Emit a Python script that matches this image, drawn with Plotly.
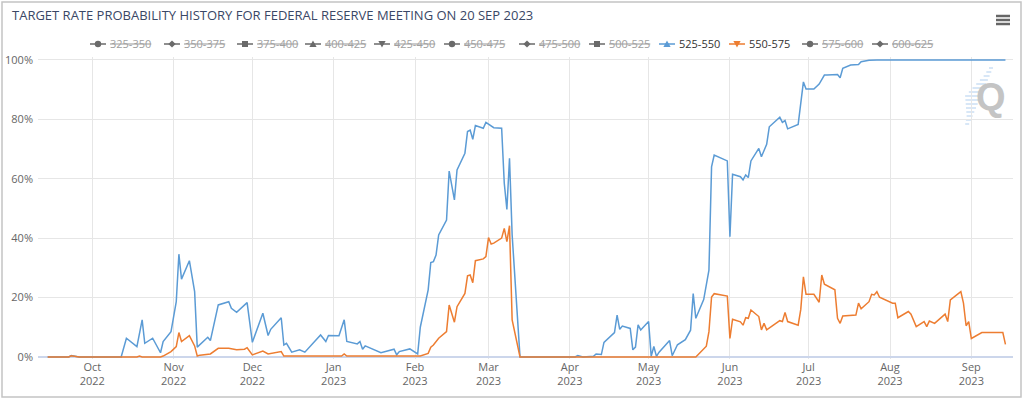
import plotly.graph_objects as go

# ---------------- data ----------------
rate_buckets = ["325-350", "350-375", "375-400", "400-425", "425-450", "450-475",
                "475-500", "500-525", "525-550", "550-575", "575-600", "600-625"]
bucket_symbols = ["circle", "diamond", "square", "triangle-up", "triangle-down", "circle",
                  "diamond", "square", "triangle-up", "triangle-down", "circle", "diamond"]
visible_buckets = ["525-550", "550-575"]

dates_525_550 = [
    "2022-09-14", "2022-09-22", "2022-09-23", "2022-09-26", "2022-10-12", "2022-10-14",
    "2022-10-18", "2022-10-20", "2022-10-21", "2022-10-24", "2022-10-27", "2022-10-28",
    "2022-10-31", "2022-11-02", "2022-11-03", "2022-11-04", "2022-11-07", "2022-11-09",
    "2022-11-10", "2022-11-14", "2022-11-15", "2022-11-18", "2022-11-22", "2022-11-23",
    "2022-11-25", "2022-11-29", "2022-12-01", "2022-12-05", "2022-12-07", "2022-12-08",
    "2022-12-12", "2022-12-13", "2022-12-14", "2022-12-16", "2022-12-19", "2022-12-21",
    "2022-12-27", "2022-12-29", "2022-12-30", "2023-01-03", "2023-01-05", "2023-01-06",
    "2023-01-10", "2023-01-11", "2023-01-12", "2023-01-13", "2023-01-19", "2023-01-24",
    "2023-01-25", "2023-01-26", "2023-01-30", "2023-02-02", "2023-02-03", "2023-02-06",
    "2023-02-07", "2023-02-08", "2023-02-09", "2023-02-10", "2023-02-13", "2023-02-14",
    "2023-02-16", "2023-02-17", "2023-02-20", "2023-02-21", "2023-02-22", "2023-02-23",
    "2023-02-24", "2023-02-27", "2023-02-28", "2023-03-03", "2023-03-06", "2023-03-07",
    "2023-03-08", "2023-03-09", "2023-03-10", "2023-03-13", "2023-04-03", "2023-04-04",
    "2023-04-06", "2023-04-10", "2023-04-11", "2023-04-13", "2023-04-14", "2023-04-18",
    "2023-04-19", "2023-04-20", "2023-04-21", "2023-04-24", "2023-04-25", "2023-04-26",
    "2023-04-27", "2023-04-28", "2023-05-01", "2023-05-02", "2023-05-03", "2023-05-04",
    "2023-05-05", "2023-05-09", "2023-05-10", "2023-05-12", "2023-05-15", "2023-05-17",
    "2023-05-18", "2023-05-19", "2023-05-22", "2023-05-24", "2023-05-25", "2023-05-26",
    "2023-05-31", "2023-06-01", "2023-06-02", "2023-06-05", "2023-06-06", "2023-06-07",
    "2023-06-08", "2023-06-09", "2023-06-12", "2023-06-13", "2023-06-15", "2023-06-16",
    "2023-06-20", "2023-06-21", "2023-06-22", "2023-06-23", "2023-06-27", "2023-06-28",
    "2023-06-29", "2023-06-30", "2023-07-03", "2023-07-05", "2023-07-07", "2023-07-08",
    "2023-07-12", "2023-07-13", "2023-07-14", "2023-07-17", "2023-07-20", "2023-07-21",
    "2023-07-24", "2023-07-27", "2023-09-14",
]
prob_525_550 = [
    0, 0, 0.5, 0, 0, 6.3,
    3.5, 12.5, 4.6, 6.3, 1.4, 5.2,
    8.5, 18.6, 34.6, 26.2, 32.4, 22.0,
    3.3, 6.6, 5.5, 17.5, 18.6, 16.4,
    15.0, 18.3, 4.9, 14.7, 7.2, 9.3,
    13.2, 4.0, 4.6, 1.6, 2.4, 1.6,
    7.4, 5.2, 7.2, 7.1, 12.5, 5.2,
    4.4, 5.2, 2.6, 3.7, 1.4, 2.6,
    0.7, 1.8, 2.7, 1.0, 10.0, 22.6,
    31.8, 32.1, 34.3, 41.1, 46.1, 62.6,
    52.9, 63.0, 68.6, 75.9, 76.4, 73.3,
    77.9, 77.0, 79.0, 77.2, 77.0, 58.5,
    49.7, 66.9, 41.1, 0, 0, 0.5,
    0, 0.2, 1.0, 0.8, 4.9, 8.2,
    14.1, 9.3, 10.4, 9.6, 2.4, 3.3,
    10.8, 9.1, 11.9, 0.2, 3.5, 0.2,
    1.6, 5.5, 0.4, 4.1, 5.8, 9.0,
    21.3, 13.0, 19.3, 29.2, 64.0, 68.0,
    66.0, 40.5, 61.5, 60.7, 59.6, 61.3,
    60.4, 66.0, 70.2, 67.4, 71.6, 77.5,
    80.7, 79.0, 79.6, 76.8, 78.3, 85.0,
    92.6, 90.2, 90.2, 91.9, 94.9, 94.9,
    95.1, 94.0, 97.2, 98.3, 98.5, 99.4,
    99.9, 100, 100,
]

dates_550_575 = [
    "2022-09-14", "2022-09-22", "2022-09-23", "2022-09-26", "2022-10-18", "2022-10-19",
    "2022-10-20", "2022-10-27", "2022-10-28", "2022-10-31", "2022-11-02", "2022-11-03",
    "2022-11-04", "2022-11-07", "2022-11-09", "2022-11-10", "2022-11-11", "2022-11-15",
    "2022-11-18", "2022-11-22", "2022-11-25", "2022-11-28", "2022-11-29", "2022-12-01",
    "2022-12-05", "2022-12-07", "2022-12-12", "2022-12-13", "2023-01-04", "2023-01-05",
    "2023-01-06", "2023-02-03", "2023-02-06", "2023-02-07", "2023-02-08", "2023-02-10",
    "2023-02-13", "2023-02-14", "2023-02-16", "2023-02-17", "2023-02-20", "2023-02-21",
    "2023-02-22", "2023-02-23", "2023-02-24", "2023-02-27", "2023-02-28", "2023-03-01",
    "2023-03-02", "2023-03-03", "2023-03-06", "2023-03-07", "2023-03-08", "2023-03-09",
    "2023-03-10", "2023-03-13", "2023-05-19", "2023-05-23", "2023-05-24", "2023-05-25",
    "2023-05-26", "2023-05-31", "2023-06-01", "2023-06-02", "2023-06-05", "2023-06-06",
    "2023-06-07", "2023-06-08", "2023-06-09", "2023-06-12", "2023-06-13", "2023-06-14",
    "2023-06-15", "2023-06-20", "2023-06-21", "2023-06-22", "2023-06-23", "2023-06-27",
    "2023-06-28", "2023-06-29", "2023-06-30", "2023-07-03", "2023-07-05", "2023-07-06",
    "2023-07-07", "2023-07-11", "2023-07-12", "2023-07-13", "2023-07-14", "2023-07-19",
    "2023-07-20", "2023-07-21", "2023-07-24", "2023-07-25", "2023-07-26", "2023-07-27",
    "2023-07-28", "2023-07-31", "2023-08-02", "2023-08-03", "2023-08-04", "2023-08-08",
    "2023-08-09", "2023-08-11", "2023-08-14", "2023-08-15", "2023-08-16", "2023-08-18",
    "2023-08-22", "2023-08-23", "2023-08-24", "2023-08-28", "2023-08-29", "2023-08-30",
    "2023-08-31", "2023-09-01", "2023-09-05", "2023-09-13", "2023-09-14",
]
prob_550_575 = [
    0, 0, 0.4, 0, 0, 0.3,
    0, 0, 0.3, 1.8, 3.5, 8.2,
    5.2, 7.2, 3.7, 0.3, 0.6, 1.0,
    2.9, 2.9, 2.4, 2.6, 3.1, 0.7,
    2.0, 1.0, 1.8, 0.3, 0.3, 1.0,
    0.3, 0.3, 1.2, 3.3, 4.0, 6.3,
    8.5, 17.5, 11.7, 16.9, 21.4, 27.3,
    27.6, 25.0, 32.4, 33.0, 33.8, 40.2,
    38.0, 38.3, 40.0, 43.3, 38.8, 44.2,
    12.5, 0, 0, 3.6, 8.5, 20.2,
    21.3, 20.5, 6.2, 12.7, 11.8, 10.7,
    13.2, 13.0, 15.8, 13.6, 9.1, 11.3,
    9.1, 12.2, 11.9, 15.0, 11.9, 10.7,
    16.0, 27.0, 21.1, 21.1, 18.4, 27.6,
    24.5, 22.6, 13.0, 11.3, 13.8, 14.1,
    18.1, 16.2, 18.6, 21.1, 20.9, 22.0,
    20.1, 18.9, 18.1, 18.1, 13.2, 15.3,
    14.4, 10.2, 11.9, 10.2, 12.1, 11.3,
    14.4, 11.9, 19.2, 22.0, 18.1, 10.5,
    11.9, 6.2, 8.2, 8.2, 4.2,
]

month_ticks = ["2022-10-01", "2022-11-01", "2022-12-01", "2023-01-01", "2023-02-01",
               "2023-03-01", "2023-04-01", "2023-05-01", "2023-06-01", "2023-07-01",
               "2023-08-01", "2023-09-01"]
month_labels = ["Oct<br>2022", "Nov<br>2022", "Dec<br>2022", "Jan<br>2023", "Feb<br>2023",
                "Mar<br>2023", "Apr<br>2023", "May<br>2023", "Jun<br>2023", "Jul<br>2023",
                "Aug<br>2023", "Sep<br>2023"]
y_ticks = [0, 20, 40, 60, 80, 100]
y_labels = ["0%", "20%", "40%", "60%", "80%", "100%"]

title_text = "TARGET RATE PROBABILITY HISTORY FOR FEDERAL RESERVE MEETING ON 20 SEP 2023"

# ---------------- style / layout ----------------
BLUE = "#5b9bd5"
ORANGE = "#ed7d31"
HIDDEN_SYMBOL = "#6a6a6a"
HIDDEN_TEXT = "#a0a0a0"
FONT = "Open Sans, Lucida Grande, DejaVu Sans, sans-serif"

W, H = 1024, 399
L, R, T, B = 38, 11, 57, 40
PW, PH = W - L - R, H - T - B

# pixel centres of the legend symbols (layout, not data)
LEGEND_SYMBOL_X = [98, 172, 245, 313, 382, 452, 527, 597, 667, 737, 810, 880]
LEGEND_Y = 44


def px(x):
    return (x - L) / PW


def py(y):
    return (H - B - y) / PH


series_colors = {"525-550": BLUE, "550-575": ORANGE}
series = {
    "525-550": (dates_525_550, prob_525_550),
    "550-575": (dates_550_575, prob_550_575),
}

fig = go.Figure()
for name, (xs, ys) in series.items():
    fig.add_trace(go.Scatter(
        x=xs, y=ys, mode="lines", name=name,
        line=dict(color=series_colors[name], width=1.5),
    ))

shapes = []
annotations = []


def symbol_shape(kind, cx, cy, color):
    r = 3.6
    if kind == "circle":
        return dict(type="circle", xref="paper", yref="paper",
                    x0=px(cx - 3.2), x1=px(cx + 3.2), y0=py(cy + 3.2), y1=py(cy - 3.2),
                    fillcolor=color, line=dict(width=0, color=color))
    if kind == "square":
        return dict(type="rect", xref="paper", yref="paper",
                    x0=px(cx - 3), x1=px(cx + 3), y0=py(cy + 3), y1=py(cy - 3),
                    fillcolor=color, line=dict(width=0, color=color))
    if kind == "diamond":
        pts = [(cx, cy - r), (cx + r, cy), (cx, cy + r), (cx - r, cy)]
    elif kind == "triangle-up":
        pts = [(cx, cy - r), (cx + r, cy + r * 0.8), (cx - r, cy + r * 0.8)]
    else:
        pts = [(cx, cy + r), (cx + r, cy - r * 0.8), (cx - r, cy - r * 0.8)]
    path = "M " + " L ".join(f"{px(x):.5f},{py(y):.5f}" for x, y in pts) + " Z"
    return dict(type="path", xref="paper", yref="paper", path=path,
                fillcolor=color, line=dict(width=0, color=color))


# legend (drawn like the Highcharts legend: short line + symbol + label)
for name, sym, sx in zip(rate_buckets, bucket_symbols, LEGEND_SYMBOL_X):
    on = name in visible_buckets
    col = series_colors.get(name, HIDDEN_SYMBOL)
    shapes.append(dict(type="line", xref="paper", yref="paper",
                       x0=px(sx - 8), x1=px(sx + 8), y0=py(LEGEND_Y), y1=py(LEGEND_Y),
                       line=dict(color=col, width=1.5)))
    shapes.append(symbol_shape(sym, sx, LEGEND_Y, col))
    annotations.append(dict(
        text=name if on else "<s>" + name + "</s>",
        xref="paper", yref="paper", x=px(sx + 10), y=py(LEGEND_Y),
        xanchor="left", yanchor="middle", showarrow=False,
        font=dict(family=FONT, size=11, color="#333333" if on else HIDDEN_TEXT)))

# outer chart border
shapes.append(dict(type="rect", xref="paper", yref="paper",
                   x0=px(2), x1=px(1021), y0=py(397), y1=py(2),
                   line=dict(color="#c4c4c4", width=1.5), fillcolor="rgba(0,0,0,0)", layer="below"))
# hamburger menu
for yy in (16, 20, 24):
    shapes.append(dict(type="line", xref="paper", yref="paper",
                       x0=px(996), x1=px(1010), y0=py(yy), y1=py(yy),
                       line=dict(color="#666666", width=2.5)))
# watermark stripes
stripe_len = [4, 5, 6, 8, 10, 12, 14, 16, 14, 12, 10, 8, 6, 5, 4]
for i, ln in enumerate(stripe_len):
    yy = 68 + i * 4
    xc = 993 - i * 1.7
    shapes.append(dict(type="line", xref="paper", yref="paper",
                       x0=px(xc - ln), x1=px(xc), y0=py(yy), y1=py(yy),
                       line=dict(color="#cfe2f5", width=1.6), layer="below"))

annotations.append(dict(text=title_text, xref="paper", yref="paper", x=px(10), y=py(15),
                        xanchor="left", yanchor="middle", showarrow=False,
                        font=dict(family=FONT, size=13, color="#3a4766")))
annotations.append(dict(text="<b>Q</b>", xref="paper", yref="paper", x=px(990.5), y=py(97),
                        xanchor="center", yanchor="middle", showarrow=False,
                        font=dict(family="Liberation Sans, Arial, sans-serif", size=38,
                                  color="#c4c4c4")))

fig.update_layout(
    width=W, height=H,
    margin=dict(l=L, r=R, t=T, b=B, pad=0, autoexpand=False),
    paper_bgcolor="white", plot_bgcolor="white",
    font=dict(family=FONT, size=11, color="#666666"),
    showlegend=False,
    xaxis=dict(
        type="date", range=["2022-09-10 07:25", "2023-09-16 21:00"],
        tickmode="array", tickvals=month_ticks, ticktext=month_labels,
        showgrid=True, gridcolor="#e6e6e6", gridwidth=1,
        showline=False, zeroline=False, ticks="", automargin=False,
        tickfont=dict(size=11, color="#666666"),
    ),
    yaxis=dict(
        range=[-0.7, 101.0], tickmode="array", tickvals=y_ticks, ticktext=y_labels,
        showgrid=True, gridcolor="#e6e6e6", gridwidth=1,
        zeroline=True, zerolinecolor="#ccd6eb", zerolinewidth=1.5,
        showline=False, ticks="", automargin=False, ticklabelstandoff=4,
        tickfont=dict(size=11, color="#666666"),
    ),
    shapes=shapes,
    annotations=annotations,
)

fig.write_html(
    "out.html",
    config={"displayModeBar": False},
    post_script="document.body.style.margin='0';document.body.style.padding='0';"
                "document.body.style.overflow='hidden';",
)
